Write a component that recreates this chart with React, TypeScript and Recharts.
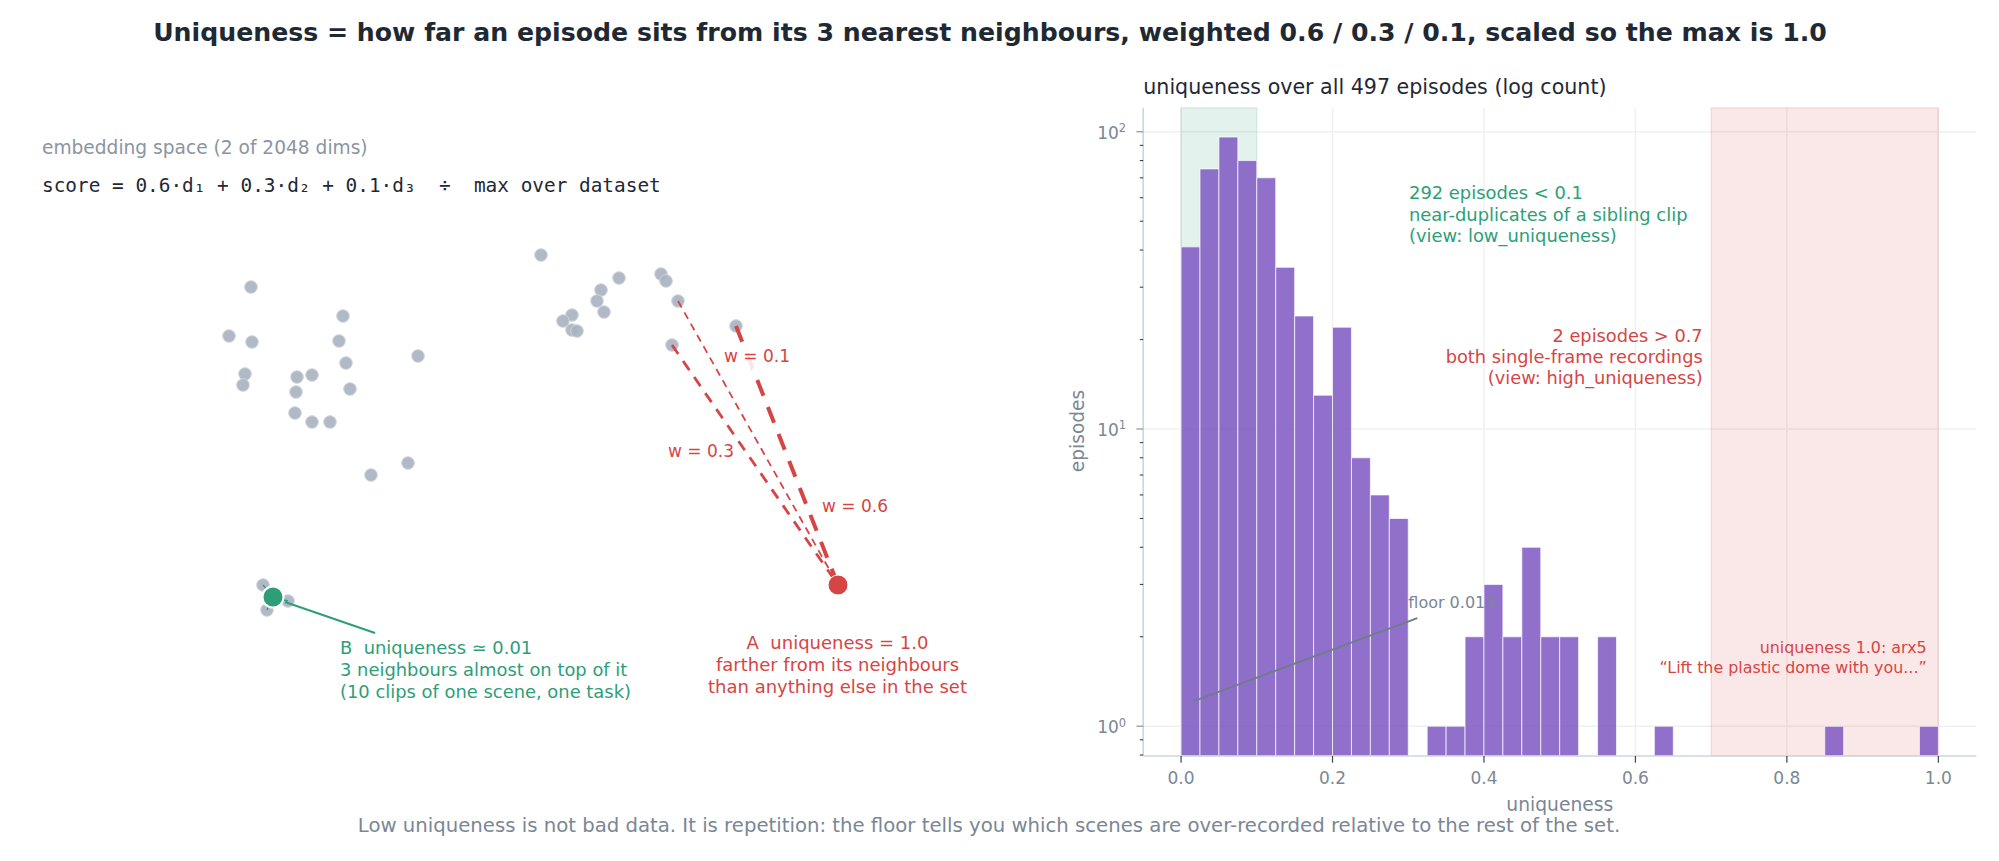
import { Bar, ComposedChart, CartesianGrid, ReferenceArea, ReferenceLine, Scatter, ScatterChart, XAxis, YAxis } from "recharts";

// histogram of uniqueness, 0.025 wide bins (bin centres + counts, zero bins kept)
const BIN_CENTRES = [
  0.0125, 0.0375, 0.0625, 0.0875, 0.1125, 0.1375, 0.1625, 0.1875, 0.2125, 0.2375,
  0.2625, 0.2875, 0.3125, 0.3375, 0.3625, 0.3875, 0.4125, 0.4375, 0.4625, 0.4875,
  0.5125, 0.5375, 0.5625, 0.5875, 0.6125, 0.6375, 0.6625, 0.6875, 0.7125, 0.7375,
  0.7625, 0.7875, 0.8125, 0.8375, 0.8625, 0.8875, 0.9125, 0.9375, 0.9625, 0.9875,
];
const BIN_COUNTS = [
  41, 75, 96, 80, 70, 35, 24, 13, 22, 8,
  6, 5, 0, 1, 1, 2, 3, 2, 4, 2,
  2, 0, 2, 0, 0, 1, 0, 0, 0, 0,
  0, 0, 0, 0, 1, 0, 0, 0, 0, 1,
];
const X_TICKS = [0, 0.2, 0.4, 0.6, 0.8, 1];
const Y_TICKS = [0.8, 0.9, 1, 2, 3, 4, 5, 6, 7, 8, 9, 10, 20, 30, 40, 50, 60, 70, 80, 90, 100];
const Y_LABELS: Record<number, string> = { 1: "0", 10: "1", 100: "2" };

// embedding points, two dims
const CLOUD_POINTS = [
  [2.51, 5.74], [3.43, 5.45], [2.29, 5.25], [2.52, 5.19], [3.39, 5.2], [4.18, 5.05],
  [3.46, 4.98], [2.45, 4.87], [2.43, 4.76], [2.97, 4.84], [3.12, 4.86], [2.96, 4.69],
  [3.5, 4.72], [2.95, 4.48], [3.12, 4.39], [3.3, 4.39], [4.08, 3.98], [3.71, 3.86],
  [5.41, 6.06], [6.19, 5.83], [6.61, 5.87], [6.66, 5.8], [6.01, 5.71], [5.97, 5.6],
  [6.78, 5.6], [6.04, 5.49], [5.72, 5.46], [5.63, 5.4], [5.72, 5.31], [5.77, 5.3],
  [7.36, 5.35], [6.72, 5.16],
];
const B_NEIGHBOURS = [[2.63, 2.76], [2.67, 2.51], [2.88, 2.6]];
const POINT_A = [8.38, 2.76];
const POINT_B = [2.73, 2.64];
const A_NEAREST = [[7.36, 5.35], [6.72, 5.16], [6.78, 5.6]];
const A_WIDTHS = [4, 2.8, 1.8];
const A_DASHES = ["17 12", "11 8.5", "7.5 5.5"];
const B_CALLOUT = [[2.85, 2.59], [3.75, 2.28]];
const FLOOR_CALLOUT = [[0.0172, 1.216], [0.312, 2.31]];

const RED = "#d64545";
const GREEN = "#2e9e78";
const GREY = "#7b8794";
const DARK = "#1f2933";
const FONT = "'DejaVu Sans', sans-serif";

const histogram = BIN_CENTRES.map((u, i) => ({ u, n: BIN_COUNTS[i] })).filter((d) => d.n > 0);
const toXY = (p: number[]) => ({ x: p[0], y: p[1] });

function LogTick({ x, y, payload }: any) {
  const exp = Y_LABELS[payload.value];
  if (exp === undefined) {
    return <line x1={x - 3.4} x2={x} y1={y} y2={y} stroke="#3d444d" strokeWidth={1.1} />;
  }
  return (
    <g>
      <line x1={x - 6.8} x2={x} y1={y} y2={y} stroke="#8a939e" strokeWidth={1.2} />
      <text x={x - 17} y={y + 7} textAnchor="end" fontFamily={FONT} fontSize={17} fill={GREY}>
        10
        <tspan dy={-6.5} fontSize={11.5}>{exp}</tspan>
      </text>
    </g>
  );
}

function Note({ x, y, lines, color, size = 18, anchor = "start", step = 22 }: any) {
  return (
    <text x={x} textAnchor={anchor} fontFamily={FONT} fontSize={size} fill={color} style={{ whiteSpace: "pre" }}>
      {lines.map((l: string, i: number) => (
        <tspan key={i} x={x} y={y + i * step}>{l}</tspan>
      ))}
    </text>
  );
}

const dot = (r: number, fill: string, stroke: string, sw: number, opacity = 1) => (p: any) => (
  <circle cx={p.cx} cy={p.cy} r={r} fill={fill} fillOpacity={opacity} stroke={stroke} strokeWidth={sw} />
);

function EmbeddingPanel() {
  return (
    <ScatterChart width={1000} height={861} margin={{ top: 0, right: 0, bottom: 0, left: 0 }} style={{ position: "absolute", left: 0, top: 0 }}>
      <XAxis type="number" dataKey="x" domain={[0, 10]} hide />
      <YAxis type="number" dataKey="y" domain={[0, 8.61]} hide />
      <Scatter data={[...CLOUD_POINTS, ...B_NEIGHBOURS].map(toXY)} shape={dot(6.3, "#a9b3c0", "#cfd5dc", 1, 0.92)} isAnimationActive={false} zIndex={600} />
      {A_NEAREST.map((n, i) => (
        <ReferenceLine
          key={i}
          segment={[toXY(n), toXY(POINT_A)]}
          stroke={RED}
          strokeWidth={A_WIDTHS[i]}
          strokeDasharray={A_DASHES[i]}
          ifOverflow="visible"
          zIndex={650}
        />
      ))}
      {B_NEIGHBOURS.map((n, i) => (
        <ReferenceLine key={i} segment={[toXY(n), toXY(POINT_B)]} stroke={GREEN} strokeWidth={1.4} strokeDasharray="4 3" ifOverflow="visible" zIndex={650} />
      ))}
      <ReferenceLine segment={[toXY(B_CALLOUT[0]), toXY(B_CALLOUT[1])]} stroke={GREEN} strokeWidth={2} ifOverflow="visible" zIndex={650} />
      <Scatter data={[toXY(POINT_A)]} shape={dot(10, RED, "#fff", 1)} isAnimationActive={false} zIndex={700} />
      <Scatter data={[toXY(POINT_B)]} shape={dot(10.5, GREEN, "#fff", 2)} isAnimationActive={false} zIndex={700} />
    </ScatterChart>
  );
}

function HistogramPanel() {
  return (
    <ComposedChart
      width={959}
      height={861}
      data={histogram}
      margin={{ top: 107.7, right: 22.8, bottom: 65, left: 43.2 }}
      style={{ position: "absolute", left: 1040, top: 0 }}
    >
      <CartesianGrid stroke="#eef0f2" strokeWidth={1.5} horizontalValues={[1, 10, 100]} verticalValues={X_TICKS} />
      <XAxis
        type="number"
        dataKey="u"
        domain={[-0.05, 1.05]}
        ticks={X_TICKS}
        allowDataOverflow
        height={40}
        interval={0}
        tickFormatter={(v: number) => v.toFixed(1)}
        tick={{ fill: GREY, fontSize: 17, fontFamily: FONT }}
        tickSize={6.7}
        tickMargin={9}
        tickLine={{ stroke: "#3d444d", strokeWidth: 1.2 }}
        axisLine={{ stroke: "#ced4e0", strokeWidth: 1.6 }}
      />
      <YAxis
        type="number"
        scale="log"
        domain={[0.794, 120.5]}
        ticks={Y_TICKS}
        allowDataOverflow
        width={60}
        interval={0}
        tick={LogTick}
        tickLine={false}
        tickSize={0}
        tickMargin={0}
        axisLine={{ stroke: "#ced4e0", strokeWidth: 1.6 }}
      />
      <ReferenceArea x1={0} x2={0.1} fill={GREEN} fillOpacity={0.13} stroke={GREEN} strokeOpacity={0.13} strokeWidth={1.5} ifOverflow="visible" />
      <ReferenceArea x1={0.7} x2={1} fill={RED} fillOpacity={0.13} stroke={RED} strokeOpacity={0.13} strokeWidth={1.5} ifOverflow="visible" />
      <Bar dataKey="n" barSize={18.93} fill="#7e57c2" fillOpacity={0.85} stroke="#fff" strokeOpacity={0.7} strokeWidth={1} isAnimationActive={false} />
      <ReferenceLine segment={[{ x: FLOOR_CALLOUT[0][0], y: FLOOR_CALLOUT[0][1] }, { x: FLOOR_CALLOUT[1][0], y: FLOOR_CALLOUT[1][1] }]} stroke="#6f7d85" strokeWidth={1.8} ifOverflow="visible" />
    </ComposedChart>
  );
}

export default function App() {
  return (
    <div style={{ position: "absolute", left: 0, top: 0, width: 1999, height: 861, background: "#fff", overflow: "hidden" }}>
      <EmbeddingPanel />
      <HistogramPanel />
      <svg width={1999} height={861} style={{ position: "absolute", left: 0, top: 0, pointerEvents: "none" }}>
        <text x={990} y={41} textAnchor="middle" fontFamily={FONT} fontSize={25.2} fontWeight={700} fill={DARK}>
          Uniqueness = how far an episode sits from its 3 nearest neighbours, weighted 0.6 / 0.3 / 0.1, scaled so the max is 1.0
        </text>
        <Note x={42} y={154} size={18.6} lines={["embedding space (2 of 2048 dims)"]} color="#8a95a3" />
        <text x={42} y={192} fontFamily="'DejaVu Sans Mono', monospace" fontSize={19.4} fill={DARK} style={{ whiteSpace: "pre" }}>
          score = 0.6·d₁ + 0.3·d₂ + 0.1·d₃  ÷  max over dataset
        </text>
        <rect x={720} y={345} width={72} height={24} fill="#fff" fillOpacity={0.88} />
        <Note x={724} y={362} lines={["w = 0.1"]} color={RED} size={17} />
        <rect x={664} y={440} width={72} height={24} fill="#fff" fillOpacity={0.88} />
        <Note x={668} y={457} lines={["w = 0.3"]} color={RED} size={17} />
        <rect x={818} y={494} width={72} height={24} fill="#fff" fillOpacity={0.88} />
        <Note x={822} y={512} lines={["w = 0.6"]} color={RED} size={17} />
        <Note x={340} y={654} size={17.9} lines={["B  uniqueness ≃ 0.01", "3 neighbours almost on top of it", "(10 clips of one scene, one task)"]} color={GREEN} />
        <Note x={837.5} y={649} anchor="middle" lines={["A  uniqueness = 1.0", "farther from its neighbours", "than anything else in the set"]} color={RED} />

        <text x={1143.3} y={94} fontFamily={FONT} fontSize={20.6} fill={DARK}>uniqueness over all 497 episodes (log count)</text>
        <text transform="rotate(-90 1078.3 431)" x={1078.3} y={431} dy={6} textAnchor="middle" fontFamily={FONT} fontSize={18.6} fill={GREY}>episodes</text>
        <text x={1559.8} y={811} textAnchor="middle" fontFamily={FONT} fontSize={18.7} fill={GREY}>uniqueness</text>
        <Note x={1409} y={199} size={17.9} step={21.5} lines={["292 episodes < 0.1", "near-duplicates of a sibling clip", "(view: low_uniqueness)"]} color={GREEN} />
        <Note x={1702.7} y={342} size={17.8} step={21} anchor="end" lines={["2 episodes > 0.7", "both single-frame recordings", "(view: high_uniqueness)"]} color={RED} />
        <Note x={1408.3} y={608} lines={["floor 0.013"]} color={GREY} size={16} />
        <Note x={1926.7} y={653} step={20} anchor="end" size={15.9} lines={["uniqueness 1.0: arx5", "“Lift the plastic dome with you...”"]} color={RED} />
        <text x={989} y={832} textAnchor="middle" fontFamily={FONT} fontSize={19.7} fill={GREY}>
          Low uniqueness is not bad data. It is repetition: the floor tells you which scenes are over-recorded relative to the rest of the set.
        </text>
      </svg>
    </div>
  );
}
